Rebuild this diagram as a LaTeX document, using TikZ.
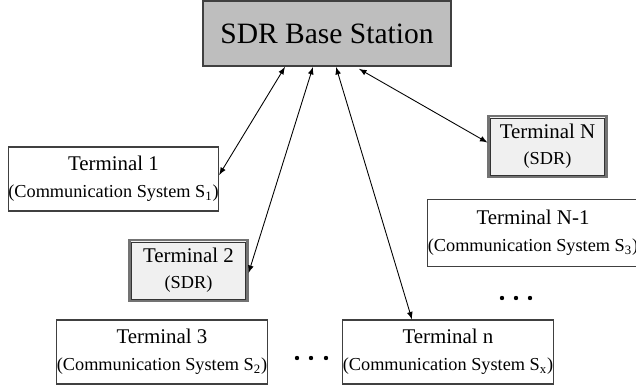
\documentclass[tikz,border=0pt]{standalone}
\usepackage{fontspec}
\setmainfont{Liberation Serif}
\usepackage{tikz}
\usetikzlibrary{calc}
\definecolor{basegray}{RGB}{190,190,190}
\definecolor{sdrgray}{RGB}{240,240,240}
\newcommand{\sysline}[1]{{\fontsize{10.4}{12}\selectfont #1}}

\begin{document}
\begin{tikzpicture}[x=0.02cm, y=-0.02cm, >=latex,
	term/.style={draw=black!75, line width=0.6pt, fill=white, align=center, inner sep=0pt,
		minimum width=4.2cm, minimum height=1.28cm, font=\fontsize{11.9}{14}\selectfont},
	sdrterm/.style={term, fill=sdrgray, line width=1.2pt, draw=black!55,
		minimum width=2.36cm, minimum height=1.22cm},
	inner/.style={draw=black!80, line width=0.5pt},
	link/.style={<->, line width=0.5pt}]

	\useasboundingbox (0,0) rectangle (636,389);

	% base station
	\node[draw=black!75, line width=1pt, fill=basegray, minimum width=4.96cm, minimum height=1.3cm,
		font=\fontsize{16.8}{18}\selectfont] (base) at (327,33.5) {SDR Base Station};

	% terminals
	\node[term] (t1) at (113.5,179) {Terminal 1\\[1.5pt]\sysline{(Communication System S\textsubscript{1})}};
	\node[sdrterm] (t2) at (188.5,270.5) {Terminal 2\\[1pt]\sysline{(SDR)}};
	\node[term] (t3) at (162,352) {Terminal 3\\[1.5pt]\sysline{(Communication System S\textsubscript{2})}};
	\node[term] (tn) at (448,352) {Terminal n\\[1.5pt]\sysline{(Communication System S\textsubscript{x})}};
	\node[sdrterm] (tN) at (547.5,146.5) {Terminal N\\[1pt]\sysline{(SDR)}};
	\node[term, minimum height=1.34cm] (tNm) at (533,233) {Terminal N-1\\[1.5pt]\sysline{(Communication System S\textsubscript{3})}};

	% inner frames of the SDR terminals
	\draw[inner] ($(t2.north west)+(3,3)$) rectangle ($(t2.south east)+(-3,-3)$);
	\draw[inner] ($(tN.north west)+(3,3)$) rectangle ($(tN.south east)+(-3,-3)$);

	% dots
	\foreach \x in {297,311,326} \fill (\x,358) circle (2.2);
	\foreach \x in {502,516,530} \fill (\x,298) circle (2.2);

	% links
	\draw[link] ($(base.south)+(-42,0)$) -- ($(t1.east)+(0,-4)$);
	\draw[link] ($(base.south)+(-14,0)$) -- ($(t2.east)+(0,2.5)$);
	\draw[link] ($(base.south)+(9,0)$) -- ($(tn.north)+(-36,0)$);
	\draw[link] ($(base.south)+(32,2)$) -- ($(tN.west)+(0,-4)$);

\end{tikzpicture}
\end{document}
